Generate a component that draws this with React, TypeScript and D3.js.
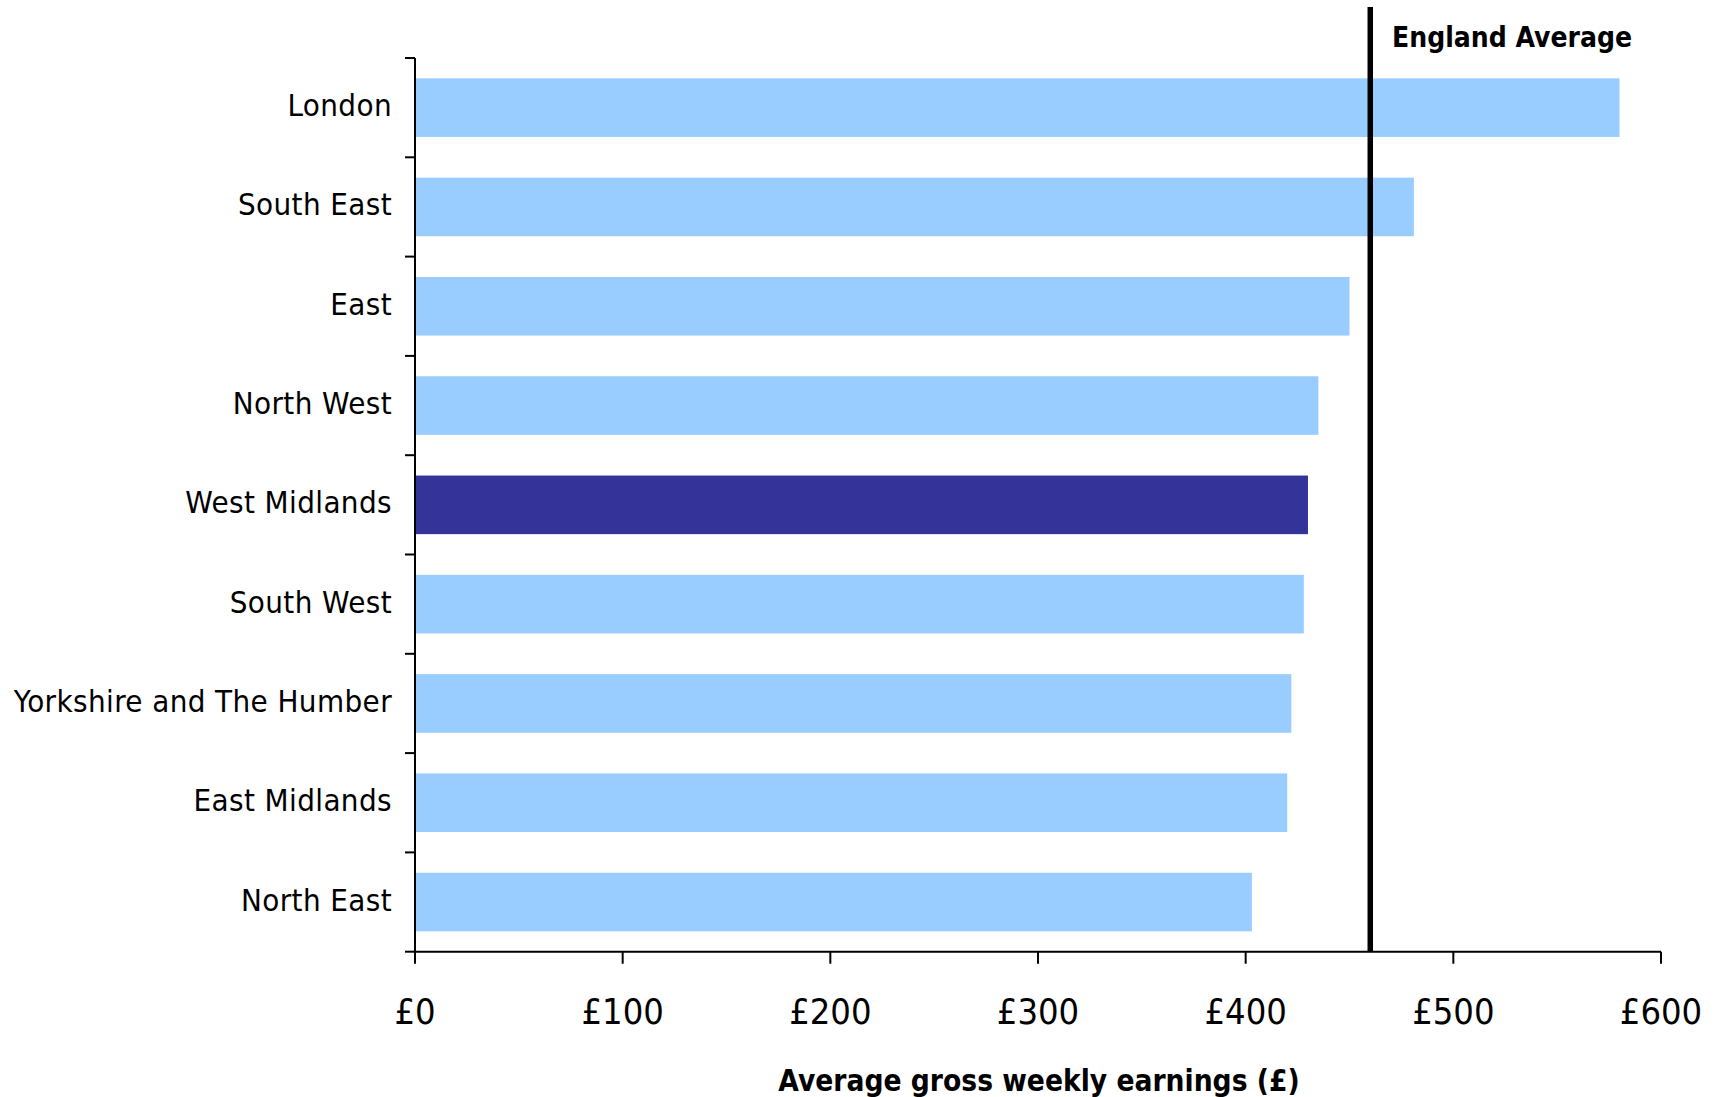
import React from "react";
import * as d3 from "d3";

const categories = [
  "London",
  "South East",
  "East",
  "North West",
  "West Midlands",
  "South West",
  "Yorkshire and The Humber",
  "East Midlands",
  "North East",
];
const earnings = [580, 481, 450, 435, 430, 428, 422, 420, 403];
const highlight = "West Midlands";
const englandAverage = 460;
const xTicks = [0, 100, 200, 300, 400, 500, 600];
const xTitle = "Average gross weekly earnings (£)";
const avgLabel = "England Average";

const W = 1719;
const H = 1097;
const left = 415;
const right = 1661;
const top = 58;
const bottom = 951.7;
const FONT = "'DejaVu Sans Condensed', 'DejaVu Sans', sans-serif";

export default function App() {
  const x = d3.scaleLinear().domain([0, 600]).range([left, right]);
  const y = d3
    .scaleBand<string>()
    .domain(categories)
    .range([top, bottom])
    .paddingInner(0.41)
    .paddingOuter(0.205);
  const step = y.step();
  const boundaries = d3.range(categories.length + 1).map((i) => top + i * step);

  return (
    <svg
      width={W}
      height={H}
      style={{ position: "absolute", left: 0, top: 0, background: "#fff" }}
      fontFamily={FONT}
    >
      <rect x={0} y={0} width={W} height={H} fill="#fff" />
      {categories.map((c, i) => (
        <rect
          key={c}
          x={x(0)}
          y={y(c)}
          width={x(earnings[i]) - x(0)}
          height={y.bandwidth()}
          fill={c === highlight ? "#333399" : "#99CCFF"}
        />
      ))}
      {/* y axis */}
      <line x1={left} x2={left} y1={top} y2={bottom} stroke="#000" strokeWidth={2} />
      {boundaries.map((b, i) => (
        <line key={i} x1={left - 10} x2={left} y1={b} y2={b} stroke="#000" strokeWidth={2} />
      ))}
      {categories.map((c) => (
        <text
          key={c}
          x={392}
          y={(y(c) as number) + y.bandwidth() / 2 + 8.5}
          textAnchor="end"
          fontSize={31}
          letterSpacing={0.4}
          fill="#000"
        >
          {c}
        </text>
      ))}
      {/* x axis */}
      <line x1={left} x2={right} y1={bottom} y2={bottom} stroke="#000" strokeWidth={2} />
      {xTicks.map((t) => (
        <g key={t}>
          <line x1={x(t)} x2={x(t)} y1={bottom} y2={bottom + 12} stroke="#000" strokeWidth={2} />
          <text x={x(t)} y={1024} textAnchor="middle" fontSize={36} fill="#000">
            {"£" + t}
          </text>
        </g>
      ))}
      <text x={1039} y={1091} textAnchor="middle" fontSize={29.6} fontWeight="bold" fill="#000">
        {xTitle}
      </text>
      {/* England average */}
      <line
        x1={x(englandAverage)}
        x2={x(englandAverage)}
        y1={7}
        y2={bottom}
        stroke="#000"
        strokeWidth={5.5}
      />
      <text x={1392} y={47} fontSize={28} fontWeight="bold" fill="#000">
        {avgLabel}
      </text>
    </svg>
  );
}
